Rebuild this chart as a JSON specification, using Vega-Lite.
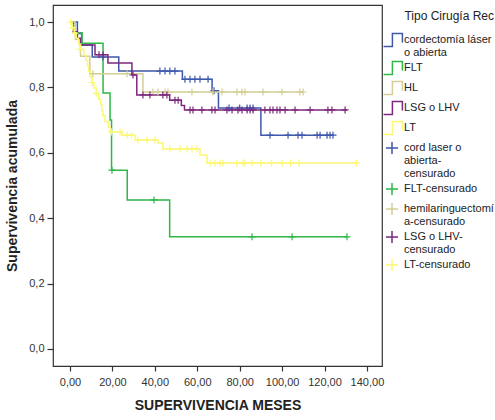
{
  "$schema": "https://vega.github.io/schema/vega-lite/v6.json",
  "width": 329,
  "height": 361,
  "autosize": {"type": "none"},
  "padding": {"left": 53, "top": 5, "right": 113, "bottom": 54},
  "background": "white",
  "config": {
    "font": "Liberation Sans",
    "view": {"stroke": "#333", "strokeWidth": 1.2},
    "axis": {"grid": false, "domain": false, "tickColor": "#333", "tickWidth": 1.2, "labelColor": "#333", "labelFont": "Liberation Sans", "labelFontSize": 11, "titleFont": "Liberation Sans", "titleFontSize": 14, "titleFontWeight": "bold", "titleColor": "#222"}
  },
  "datasets": {
    "curvas": [
      {"grupo": "cordectomía láser|o abierta", "t": 0, "s": 1},
      {"grupo": "cordectomía láser|o abierta", "t": 3.5, "s": 0.965},
      {"grupo": "cordectomía láser|o abierta", "t": 5.5, "s": 0.93},
      {"grupo": "cordectomía láser|o abierta", "t": 10.5, "s": 0.893},
      {"grupo": "cordectomía láser|o abierta", "t": 23, "s": 0.85},
      {"grupo": "cordectomía láser|o abierta", "t": 53, "s": 0.825},
      {"grupo": "cordectomía láser|o abierta", "t": 67, "s": 0.79},
      {"grupo": "cordectomía láser|o abierta", "t": 70, "s": 0.737},
      {"grupo": "cordectomía láser|o abierta", "t": 90, "s": 0.654},
      {"grupo": "cordectomía láser|o abierta", "t": 124, "s": 0.654},
      {"grupo": "FLT", "t": 0, "s": 1},
      {"grupo": "FLT", "t": 2.5, "s": 0.967},
      {"grupo": "FLT", "t": 5.7, "s": 0.935},
      {"grupo": "FLT", "t": 15.6, "s": 0.783},
      {"grupo": "FLT", "t": 18.9, "s": 0.7},
      {"grupo": "FLT", "t": 19.6, "s": 0.547},
      {"grupo": "FLT", "t": 27, "s": 0.456},
      {"grupo": "FLT", "t": 47, "s": 0.343},
      {"grupo": "FLT", "t": 130.6, "s": 0.343},
      {"grupo": "HL", "t": 0, "s": 1},
      {"grupo": "HL", "t": 2.5, "s": 0.947},
      {"grupo": "HL", "t": 5, "s": 0.895},
      {"grupo": "HL", "t": 9.4, "s": 0.842},
      {"grupo": "HL", "t": 34.4, "s": 0.786},
      {"grupo": "HL", "t": 109.9, "s": 0.786},
      {"grupo": "LSG o LHV", "t": 0, "s": 1},
      {"grupo": "LSG o LHV", "t": 1.5, "s": 0.97},
      {"grupo": "LSG o LHV", "t": 3.5, "s": 0.95},
      {"grupo": "LSG o LHV", "t": 5, "s": 0.93},
      {"grupo": "LSG o LHV", "t": 11.8, "s": 0.9},
      {"grupo": "LSG o LHV", "t": 17.9, "s": 0.875},
      {"grupo": "LSG o LHV", "t": 29.2, "s": 0.838},
      {"grupo": "LSG o LHV", "t": 31.5, "s": 0.777},
      {"grupo": "LSG o LHV", "t": 47, "s": 0.761},
      {"grupo": "LSG o LHV", "t": 52.5, "s": 0.745},
      {"grupo": "LSG o LHV", "t": 54, "s": 0.731},
      {"grupo": "LSG o LHV", "t": 130.6, "s": 0.731},
      {"grupo": "LT", "t": 0, "s": 1},
      {"grupo": "LT", "t": 1.0, "s": 0.983},
      {"grupo": "LT", "t": 2.0, "s": 0.966},
      {"grupo": "LT", "t": 3.0, "s": 0.95},
      {"grupo": "LT", "t": 4.0, "s": 0.933},
      {"grupo": "LT", "t": 5.0, "s": 0.916},
      {"grupo": "LT", "t": 6.5, "s": 0.899},
      {"grupo": "LT", "t": 7.5, "s": 0.882},
      {"grupo": "LT", "t": 8.3, "s": 0.866},
      {"grupo": "LT", "t": 8.8, "s": 0.849},
      {"grupo": "LT", "t": 9.5, "s": 0.832},
      {"grupo": "LT", "t": 10.5, "s": 0.815},
      {"grupo": "LT", "t": 11.3, "s": 0.798},
      {"grupo": "LT", "t": 12.5, "s": 0.781},
      {"grupo": "LT", "t": 13.5, "s": 0.764},
      {"grupo": "LT", "t": 14.5, "s": 0.747},
      {"grupo": "LT", "t": 15.0, "s": 0.73},
      {"grupo": "LT", "t": 15.5, "s": 0.713},
      {"grupo": "LT", "t": 16.5, "s": 0.696},
      {"grupo": "LT", "t": 18.0, "s": 0.679},
      {"grupo": "LT", "t": 19.0, "s": 0.664},
      {"grupo": "LT", "t": 24.5, "s": 0.654},
      {"grupo": "LT", "t": 30.7, "s": 0.639},
      {"grupo": "LT", "t": 41.5, "s": 0.63},
      {"grupo": "LT", "t": 43.8, "s": 0.612},
      {"grupo": "LT", "t": 61.3, "s": 0.593},
      {"grupo": "LT", "t": 64.6, "s": 0.569},
      {"grupo": "LT", "t": 135, "s": 0.569}
    ],
    "censuras": [
      {"leyenda": "cord laser o|abierta-|censurado", "t": 15.5, "s": 0.893},
      {"leyenda": "cord laser o|abierta-|censurado", "t": 42.4, "s": 0.85},
      {"leyenda": "cord laser o|abierta-|censurado", "t": 44.8, "s": 0.85},
      {"leyenda": "cord laser o|abierta-|censurado", "t": 47.1, "s": 0.85},
      {"leyenda": "cord laser o|abierta-|censurado", "t": 49.5, "s": 0.85},
      {"leyenda": "cord laser o|abierta-|censurado", "t": 54.2, "s": 0.825},
      {"leyenda": "cord laser o|abierta-|censurado", "t": 56.6, "s": 0.825},
      {"leyenda": "cord laser o|abierta-|censurado", "t": 58.9, "s": 0.825},
      {"leyenda": "cord laser o|abierta-|censurado", "t": 61.3, "s": 0.825},
      {"leyenda": "cord laser o|abierta-|censurado", "t": 65.1, "s": 0.825},
      {"leyenda": "cord laser o|abierta-|censurado", "t": 67.9, "s": 0.79},
      {"leyenda": "cord laser o|abierta-|censurado", "t": 75, "s": 0.737},
      {"leyenda": "cord laser o|abierta-|censurado", "t": 80, "s": 0.737},
      {"leyenda": "cord laser o|abierta-|censurado", "t": 83.5, "s": 0.737},
      {"leyenda": "cord laser o|abierta-|censurado", "t": 84.9, "s": 0.737},
      {"leyenda": "cord laser o|abierta-|censurado", "t": 86.3, "s": 0.737},
      {"leyenda": "cord laser o|abierta-|censurado", "t": 94.3, "s": 0.654},
      {"leyenda": "cord laser o|abierta-|censurado", "t": 102.8, "s": 0.654},
      {"leyenda": "cord laser o|abierta-|censurado", "t": 107.5, "s": 0.654},
      {"leyenda": "cord laser o|abierta-|censurado", "t": 109.4, "s": 0.654},
      {"leyenda": "cord laser o|abierta-|censurado", "t": 116.5, "s": 0.654},
      {"leyenda": "cord laser o|abierta-|censurado", "t": 117.9, "s": 0.654},
      {"leyenda": "cord laser o|abierta-|censurado", "t": 121.2, "s": 0.654},
      {"leyenda": "cord laser o|abierta-|censurado", "t": 122.6, "s": 0.654},
      {"leyenda": "cord laser o|abierta-|censurado", "t": 124, "s": 0.654},
      {"leyenda": "FLT-censurado", "t": 19.8, "s": 0.547},
      {"leyenda": "FLT-censurado", "t": 39.6, "s": 0.456},
      {"leyenda": "FLT-censurado", "t": 85.8, "s": 0.343},
      {"leyenda": "FLT-censurado", "t": 104.7, "s": 0.343},
      {"leyenda": "FLT-censurado", "t": 130.6, "s": 0.343},
      {"leyenda": "hemilaringuectomí|a-censurado", "t": 10.8, "s": 0.842},
      {"leyenda": "hemilaringuectomí|a-censurado", "t": 26.9, "s": 0.842},
      {"leyenda": "hemilaringuectomí|a-censurado", "t": 39.1, "s": 0.786},
      {"leyenda": "hemilaringuectomí|a-censurado", "t": 41.5, "s": 0.786},
      {"leyenda": "hemilaringuectomí|a-censurado", "t": 44.8, "s": 0.786},
      {"leyenda": "hemilaringuectomí|a-censurado", "t": 46.2, "s": 0.786},
      {"leyenda": "hemilaringuectomí|a-censurado", "t": 57.5, "s": 0.786},
      {"leyenda": "hemilaringuectomí|a-censurado", "t": 67.4, "s": 0.786},
      {"leyenda": "hemilaringuectomí|a-censurado", "t": 71.7, "s": 0.786},
      {"leyenda": "hemilaringuectomí|a-censurado", "t": 78.7, "s": 0.786},
      {"leyenda": "hemilaringuectomí|a-censurado", "t": 81.1, "s": 0.786},
      {"leyenda": "hemilaringuectomí|a-censurado", "t": 82.5, "s": 0.786},
      {"leyenda": "hemilaringuectomí|a-censurado", "t": 91, "s": 0.786},
      {"leyenda": "hemilaringuectomí|a-censurado", "t": 99.9, "s": 0.786},
      {"leyenda": "hemilaringuectomí|a-censurado", "t": 108.4, "s": 0.786},
      {"leyenda": "hemilaringuectomí|a-censurado", "t": 109.9, "s": 0.786},
      {"leyenda": "LSG o LHV-|censurado", "t": 13.7, "s": 0.9},
      {"leyenda": "LSG o LHV-|censurado", "t": 15.6, "s": 0.9},
      {"leyenda": "LSG o LHV-|censurado", "t": 29.7, "s": 0.838},
      {"leyenda": "LSG o LHV-|censurado", "t": 34.4, "s": 0.777},
      {"leyenda": "LSG o LHV-|censurado", "t": 37.7, "s": 0.777},
      {"leyenda": "LSG o LHV-|censurado", "t": 43.8, "s": 0.777},
      {"leyenda": "LSG o LHV-|censurado", "t": 45.7, "s": 0.777},
      {"leyenda": "LSG o LHV-|censurado", "t": 49.5, "s": 0.761},
      {"leyenda": "LSG o LHV-|censurado", "t": 51, "s": 0.761},
      {"leyenda": "LSG o LHV-|censurado", "t": 56.6, "s": 0.731},
      {"leyenda": "LSG o LHV-|censurado", "t": 58, "s": 0.731},
      {"leyenda": "LSG o LHV-|censurado", "t": 62.2, "s": 0.731},
      {"leyenda": "LSG o LHV-|censurado", "t": 66.9, "s": 0.731},
      {"leyenda": "LSG o LHV-|censurado", "t": 68.4, "s": 0.731},
      {"leyenda": "LSG o LHV-|censurado", "t": 74, "s": 0.731},
      {"leyenda": "LSG o LHV-|censurado", "t": 76.4, "s": 0.731},
      {"leyenda": "LSG o LHV-|censurado", "t": 79.2, "s": 0.731},
      {"leyenda": "LSG o LHV-|censurado", "t": 81.1, "s": 0.731},
      {"leyenda": "LSG o LHV-|censurado", "t": 83.5, "s": 0.731},
      {"leyenda": "LSG o LHV-|censurado", "t": 84.9, "s": 0.731},
      {"leyenda": "LSG o LHV-|censurado", "t": 86.3, "s": 0.731},
      {"leyenda": "LSG o LHV-|censurado", "t": 91.9, "s": 0.731},
      {"leyenda": "LSG o LHV-|censurado", "t": 94.3, "s": 0.731},
      {"leyenda": "LSG o LHV-|censurado", "t": 95.7, "s": 0.731},
      {"leyenda": "LSG o LHV-|censurado", "t": 97.6, "s": 0.731},
      {"leyenda": "LSG o LHV-|censurado", "t": 99, "s": 0.731},
      {"leyenda": "LSG o LHV-|censurado", "t": 101.4, "s": 0.731},
      {"leyenda": "LSG o LHV-|censurado", "t": 106.1, "s": 0.731},
      {"leyenda": "LSG o LHV-|censurado", "t": 113.2, "s": 0.731},
      {"leyenda": "LSG o LHV-|censurado", "t": 121.6, "s": 0.731},
      {"leyenda": "LSG o LHV-|censurado", "t": 123.5, "s": 0.731},
      {"leyenda": "LSG o LHV-|censurado", "t": 129.7, "s": 0.731},
      {"leyenda": "LT-censurado", "t": 0.3, "s": 1},
      {"leyenda": "LT-censurado", "t": 1.3, "s": 0.983},
      {"leyenda": "LT-censurado", "t": 2.3, "s": 0.966},
      {"leyenda": "LT-censurado", "t": 4.7, "s": 0.916},
      {"leyenda": "LT-censurado", "t": 10.4, "s": 0.815},
      {"leyenda": "LT-censurado", "t": 12.3, "s": 0.781},
      {"leyenda": "LT-censurado", "t": 19.5, "s": 0.664},
      {"leyenda": "LT-censurado", "t": 23.6, "s": 0.664},
      {"leyenda": "LT-censurado", "t": 27, "s": 0.654},
      {"leyenda": "LT-censurado", "t": 29, "s": 0.654},
      {"leyenda": "LT-censurado", "t": 32, "s": 0.639},
      {"leyenda": "LT-censurado", "t": 36.3, "s": 0.639},
      {"leyenda": "LT-censurado", "t": 40.1, "s": 0.639},
      {"leyenda": "LT-censurado", "t": 47.1, "s": 0.612},
      {"leyenda": "LT-censurado", "t": 51.9, "s": 0.612},
      {"leyenda": "LT-censurado", "t": 55.2, "s": 0.612},
      {"leyenda": "LT-censurado", "t": 57.5, "s": 0.612},
      {"leyenda": "LT-censurado", "t": 59.9, "s": 0.612},
      {"leyenda": "LT-censurado", "t": 66, "s": 0.569},
      {"leyenda": "LT-censurado", "t": 68.4, "s": 0.569},
      {"leyenda": "LT-censurado", "t": 70.7, "s": 0.569},
      {"leyenda": "LT-censurado", "t": 72.1, "s": 0.569},
      {"leyenda": "LT-censurado", "t": 78.7, "s": 0.569},
      {"leyenda": "LT-censurado", "t": 81.6, "s": 0.569},
      {"leyenda": "LT-censurado", "t": 82.5, "s": 0.569},
      {"leyenda": "LT-censurado", "t": 85.8, "s": 0.569},
      {"leyenda": "LT-censurado", "t": 90, "s": 0.569},
      {"leyenda": "LT-censurado", "t": 95, "s": 0.569},
      {"leyenda": "LT-censurado", "t": 100, "s": 0.569},
      {"leyenda": "LT-censurado", "t": 104, "s": 0.569},
      {"leyenda": "LT-censurado", "t": 108, "s": 0.569},
      {"leyenda": "LT-censurado", "t": 135, "s": 0.569}
    ]
  },
  "layer": [
    {
      "data": {"name": "curvas"},
      "mark": {"type": "line", "interpolate": "step-after", "strokeWidth": 1.5},
      "encoding": {
        "x": {"field": "t", "type": "quantitative", "scale": {"domain": [-8, 147.1], "nice": false, "zero": false},
          "axis": {"title": "SUPERVIVENCIA MESES", "values": [0, 20, 40, 60, 80, 100, 120, 140], "labelExpr": "replace(format(datum.value, '.2f'), '.', ',')", "tickSize": 5, "labelPadding": 5, "labelFlush": false, "labelOverlap": false, "titlePadding": 11}},
        "y": {"field": "s", "type": "quantitative", "scale": {"domain": [-0.052, 1.052], "nice": false, "zero": false},
          "axis": {"title": "Supervivencia acumulada", "values": [0, 0.2, 0.4, 0.6, 0.8, 1], "labelExpr": "replace(format(datum.value, '.1f'), '.', ',')", "tickSize": 6, "labelPadding": 3, "labelFlush": false, "labelOverlap": false, "titlePadding": 9}},
        "stroke": {"field": "grupo", "type": "nominal",
          "scale": {"domain": ["cordectomía láser|o abierta", "FLT", "HL", "LSG o LHV", "LT"], "range": ["#3E58AC", "#2EB848", "#D3CE97", "#7C287D", "#FBF873"]},
          "legend": null}
      }
    },
    {
      "data": {"name": "censuras"},
      "mark": {"type": "point", "filled": false, "opacity": 1, "strokeWidth": 1.2},
      "encoding": {
        "x": {"field": "t", "type": "quantitative"},
        "y": {"field": "s", "type": "quantitative"},
        "size": {"value": 85},
        "color": {"field": "leyenda", "type": "nominal",
          "scale": {"domain": ["cordectomía láser|o abierta", "FLT", "HL", "LSG o LHV", "LT", "cord laser o|abierta-|censurado", "FLT-censurado", "hemilaringuectomí|a-censurado", "LSG o LHV-|censurado", "LT-censurado"],
            "range": ["#3E58AC", "#2EB848", "#D3CE97", "#7C287D", "#FBF873", "#3E58AC", "#2EB848", "#D3CE97", "#7C287D", "#FBF873"]},
          "legend": {"title": "Tipo Cirugía Rec", "orient": "none", "legendX": 330, "legendY": 6, "labelExpr": "split(datum.label, '|')", "symbolSize": 256, "symbolStrokeWidth": 1.5, "labelFontSize": 11, "labelFont": "Liberation Sans", "labelColor": "#222", "labelOffset": 3, "labelLimit": 200, "rowPadding": 0, "titleFontSize": 12, "titleFont": "Liberation Sans", "titleFontWeight": "normal", "titleColor": "#222", "titleAnchor": "end", "titleLimit": 200, "titlePadding": 8, "padding": 0}},
        "shape": {"field": "leyenda", "type": "nominal",
          "scale": {"domain": ["cordectomía láser|o abierta", "FLT", "HL", "LSG o LHV", "LT", "cord laser o|abierta-|censurado", "FLT-censurado", "hemilaringuectomí|a-censurado", "LSG o LHV-|censurado", "LT-censurado"],
            "range": ["M-1.05,0.81H0.05V-0.81H1.3V0.3", "M-1.05,0.81H0.05V-0.81H1.3V0.3", "M-1.05,0.81H0.05V-0.81H1.3V0.3", "M-1.05,0.81H0.05V-0.81H1.3V0.3", "M-1.05,0.81H0.05V-0.81H1.3V0.3", "M-0.76,0H0.76M0,-0.76V0.76", "M-0.76,0H0.76M0,-0.76V0.76", "M-0.76,0H0.76M0,-0.76V0.76", "M-0.76,0H0.76M0,-0.76V0.76", "M-0.76,0H0.76M0,-0.76V0.76"]},
          "legend": {"title": "Tipo Cirugía Rec", "orient": "none", "legendX": 330, "legendY": 6, "labelExpr": "split(datum.label, '|')", "symbolSize": 256, "symbolStrokeWidth": 1.5, "labelFontSize": 11, "labelFont": "Liberation Sans", "labelColor": "#222", "labelOffset": 3, "labelLimit": 200, "rowPadding": 0, "titleFontSize": 12, "titleFont": "Liberation Sans", "titleFontWeight": "normal", "titleColor": "#222", "titleAnchor": "end", "titleLimit": 200, "titlePadding": 8, "padding": 0}}
      }
    }
  ]
}
